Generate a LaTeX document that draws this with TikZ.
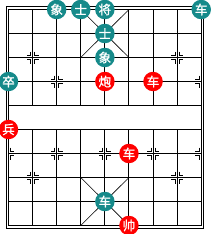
\documentclass[tikz,border=0pt]{standalone}
\usepackage{fontspec}
\newfontfamily\cjk[FakeBold=1.2]{Noto Sans CJK SC}
\definecolor{tealp}{RGB}{22,138,138}
\definecolor{redp}{RGB}{255,0,0}
\tikzset{
  gridline/.style={line width=1pt,black},
  frame/.style={line width=1pt,black},
  diag/.style={line width=0.6pt,black},
  mkR/.pic={\draw[line width=0.9pt] (2pt,6pt)--(2pt,2pt)--(6pt,2pt) (2pt,-6pt)--(2pt,-2pt)--(6pt,-2pt);},
  mkL/.pic={\draw[line width=0.9pt] (-2pt,6pt)--(-2pt,2pt)--(-6pt,2pt) (-2pt,-6pt)--(-2pt,-2pt)--(-6pt,-2pt);},
  piece/.style={circle,inner sep=0pt,minimum size=19.5pt,text=white,font=\cjk\fontsize{12.5}{12.5}\selectfont},
  tpiece/.style={piece,fill=tealp},
  rpiece/.style={piece,fill=redp}
}
\begin{document}
\begin{tikzpicture}[x=1pt,y=-1pt]
\useasboundingbox (0,0) rectangle (210,234);
\fill[white] (0,0) rectangle (210,234);
\draw[frame] (6.3,6.7) rectangle (203.4,228.1);
\begin{scope}[shift={(8.5,9.5)},x=24.09pt,y=-24pt]
  % board outline
  \draw[gridline] (0,0) rectangle (8,9);
  % horizontal lines
  \foreach \j in {1,...,8} \draw[gridline] (0,\j) -- (8,\j);
  % vertical lines (river breaks)
  \foreach \i in {1,...,7} {
    \draw[gridline] (\i,0) -- (\i,4);
    \draw[gridline] (\i,5) -- (\i,9);
  }
  % palace diagonals
  \draw[diag] (3,0) -- (5,2) (5,0) -- (3,2);
  \draw[diag] (3,7) -- (5,9) (5,7) -- (3,9);
  % position marks
  \foreach \i/\j in {1/2,7/2,1/7,7/7,2/3,4/3,6/3,2/6,4/6,6/6} {
    \pic at (\i,\j) {mkL}; \pic at (\i,\j) {mkR};
  }
  \foreach \j in {3,6} {
    \pic at (0,\j) {mkR}; \pic at (8,\j) {mkL};
  }
  % teal pieces
  \node[tpiece] (bx1) at (2,0) {象};
  \node[tpiece] (bs1) at (3,0) {士};
  \node[tpiece] (bk)  at (4,0) {将};
  \node[tpiece] (br1) at (8,0) {车};
  \node[tpiece] (bs2) at (4,1) {士};
  \node[tpiece] (bx2) at (4,2) {象};
  \node[tpiece] (bz)  at (0,3) {卒};
  \node[tpiece] (br2) at (4,8) {车};
  % red pieces
  \node[rpiece] (rp)  at (4,3) {炮};
  \node[rpiece] (rr1) at (6,3) {车};
  \node[rpiece] (rb)  at (0,5) {兵};
  \node[rpiece] (rr2) at (5,6) {车};
  \node[rpiece] (rk)  at (5,9) {帅};
\end{scope}
\end{tikzpicture}
\end{document}
